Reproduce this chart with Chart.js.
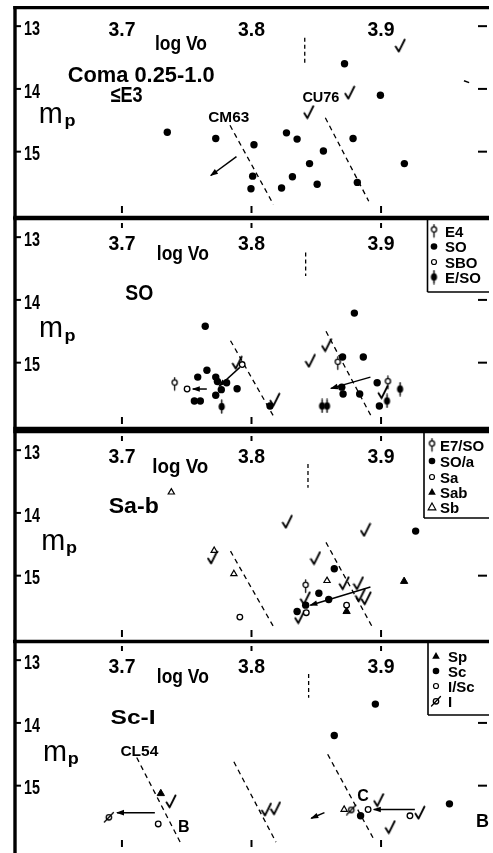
<!DOCTYPE html>
<html><head><meta charset="utf-8">
<script src="https://cdn.jsdelivr.net/npm/chart.js@4.4.1/dist/chart.umd.min.js"></script>
<style>
html,body{margin:0;padding:0;background:#fff;width:493px;height:853px;overflow:hidden}
.p{position:absolute;left:0;width:493px;height:213px}
canvas{display:block}
</style></head><body>
<div class="p" style="top:6px"><canvas id="c1" width="493" height="213"></canvas></div>
<div class="p" style="top:217px"><canvas id="c2" width="493" height="213"></canvas></div>
<div class="p" style="top:430px"><canvas id="c3" width="493" height="213"></canvas></div>
<div class="p" style="top:640px"><canvas id="c4" width="493" height="213"></canvas></div>
<script>
// ---------------- DATA ----------------
const xTicks = [3.7, 3.8, 3.9];
const yTicks = [13, 14, 15];
const xTickLabels = ['3.7', '3.8', '3.9'];
const yTickLabels = ['13', '14', '15'];

// Panel 1: Coma 0.25-1.0, <=E3
const comaDots = [[3.735,14.69],[3.7724,14.79],[3.8019,14.89],[3.8009,15.39],[3.7996,15.59],[3.8232,15.58],[3.8316,15.40],[3.827,14.70],[3.8352,14.80],[3.8448,15.19],[3.8555,14.99],[3.8507,15.52],[3.8718,13.60],[3.8784,14.79],[3.8817,15.49],[3.8995,14.10],[3.918,15.19]];
const comaChecks = [[3.9148,13.31],[3.8758,14.06],[3.8442,14.37]];
const comaGuides = [[[3.8411,13.185],[3.8411,13.61]],[[3.7834,14.58],[3.8169,15.84]],[[3.857,14.46],[3.8905,15.79]]];
const comaArrows = [[[3.7884,15.08],[3.7686,15.38]]];
const comaMarks = [[[3.964,13.87],[3.968,13.90]]];

// Panel 2: SO
const soTypes = ['E4','SO','SBO','E/SO'];
const soE4 = [[3.7407,15.34],[3.8666,15.01],[3.9053,15.32]];
const soDots = [[3.7643,14.42],[3.8794,14.21],[3.7656,15.12],[3.7585,15.23],[3.7724,15.23],[3.7737,15.30],[3.7808,15.32],[3.7767,15.43],[3.7889,15.415],[3.7724,15.52],[3.7559,15.61],[3.7605,15.61],[3.8143,15.69],[3.8703,14.91],[3.8863,14.91],[3.8697,15.39],[3.8707,15.50],[3.8835,15.50],[3.897,15.32],[3.8987,15.69]];
const soSBO = [[3.7928,15.03],[3.7503,15.42]];
const soESO = [[3.777,15.70],[3.8545,15.69],[3.8583,15.69],[3.9046,15.61],[3.9147,15.42]];
const soChecks = [[3.789,15.0],[3.818,15.59],[3.8454,14.97],[3.858,14.72],[3.9015,15.47]];
const soGuides = [[[3.8418,13.245],[3.8418,13.62]],[[3.7838,14.65],[3.8169,15.85]],[[3.8575,14.50],[3.8931,15.88]]];
const soArrows = [[[3.791,15.075],[3.775,15.375]],[[3.7655,15.42],[3.7547,15.42]],[[3.8918,15.23],[3.8613,15.41]]];

// Panel 3: Sa-b
const sabTypes = ['E7/SO','SO/a','Sa','Sab','Sb'];
const sabE7 = [[3.8418,15.17]];
const sabDots = [[3.9267,14.29],[3.8639,14.89],[3.852,15.28],[3.8596,15.38],[3.8418,15.47],[3.8352,15.57]];
const sabSa = [[3.791,15.66],[3.8423,15.59],[3.8734,15.47]];
const sabSab = [[3.9178,15.09],[3.8734,15.57]];
const sabSb = [[3.7381,13.67],[3.7712,14.60],[3.7864,14.97],[3.8583,15.08]];
const sabChecks = [[3.7699,14.71],[3.8276,14.14],[3.888,14.27],[3.8494,14.72],[3.8715,15.12],[3.8825,15.12],[3.884,15.31],[3.8885,15.36],[3.8415,15.36],[3.8372,15.66]];
const sabGuides = [[[3.8436,13.22],[3.8436,13.60]],[[3.7838,14.61],[3.8169,15.81]],[[3.8575,14.47],[3.8936,15.83]]];
const sabArrows = [[[3.8918,15.18],[3.8454,15.47]]];

// Panel 4: Sc-I
const scTypes = ['Sp','Sc','I/Sc','I'];
const scSp = [[3.73,15.125]];
const scDots = [[3.8956,13.70],[3.8639,14.20],[3.9528,15.29],[3.8842,15.48]];
const scISc = [[3.728,15.61],[3.89,15.38],[3.9223,15.48]];
const scI = [[3.6899,15.50],[3.877,15.38]];
const scSb = [[3.8715,15.38]];
const scChecks = [[3.7379,15.25],[3.8115,15.38],[3.8185,15.36],[3.8982,15.23],[3.93,15.43],[3.9071,15.66]];
const scGuides = [[[3.8441,13.22],[3.8441,13.60]],[[3.7114,14.55],[3.7457,15.93]],[[3.7864,14.62],[3.8189,15.90]],[[3.8588,14.50],[3.8951,15.88]]];
const scArrows = [[[3.7254,15.43],[3.6962,15.43]],[[3.8563,15.43],[3.8461,15.52]],[[3.9261,15.38],[3.8944,15.38]]];

// ---------------- LAYOUT / STYLE ----------------
const XMIN = 3.61745, XMAX = 3.98178, YMIN = 12.7744, YMAX = 15.9774;
const FONT = '"Liberation Sans", Arial, sans-serif';

function mk(w, h, draw) {
  const c = document.createElement('canvas'); c.width = w; c.height = h;
  const g = c.getContext('2d'); g.strokeStyle = '#000'; g.fillStyle = '#000';
  g.lineCap = 'round'; g.lineJoin = 'round'; draw(g); return c;
}
const SYM = {
  check: mk(12, 15, g => { g.lineWidth = 1.9; g.beginPath(); g.moveTo(1.5, 8.5); g.lineTo(4.6, 13.4); g.lineTo(10.5, 1.5); g.stroke(); }),
  e4: mk(9, 15, g => { g.lineWidth = 1.3; g.beginPath(); g.arc(4.5, 6, 2.6, 0, Math.PI*2); g.fillStyle = '#fff'; g.fill(); g.stroke();
        g.beginPath(); g.moveTo(4.5, 8.7); g.lineTo(4.5, 13.5); g.moveTo(4.5, 1); g.lineTo(4.5, 3.3); g.stroke(); }),
  eso: mk(9, 15, g => { g.beginPath(); g.ellipse(4.5, 7.5, 3.1, 3.8, 0, 0, Math.PI*2); g.fill();
        g.lineWidth = 1.4; g.beginPath(); g.moveTo(4.5, 1); g.lineTo(4.5, 14); g.stroke(); }),
  irr: mk(12, 12, g => { g.lineWidth = 1.3; g.beginPath(); g.arc(6, 6.3, 2.7, 0, Math.PI*2); g.stroke();
        g.beginPath(); g.moveTo(1.5, 11); g.lineTo(10.5, 1.5); g.stroke(); })
};
const ST = {
  dot:  {pointStyle:'circle', pointRadius:3.7, backgroundColor:'#000', borderColor:'#000', borderWidth:0},
  open: {pointStyle:'circle', pointRadius:2.8, backgroundColor:'#fff', borderColor:'#000', borderWidth:1.3},
  tri:  {pointStyle:'triangle', pointRadius:4.2, backgroundColor:'#000', borderColor:'#000', borderWidth:1},
  otri: {pointStyle:'triangle', pointRadius:3.6, backgroundColor:'#fff', borderColor:'#000', borderWidth:1.2},
  check:{pointStyle:SYM.check, pointRadius:5},
  e4:   {pointStyle:SYM.e4, pointRadius:5},
  eso:  {pointStyle:SYM.eso, pointRadius:5},
  irr:  {pointStyle:SYM.irr, pointRadius:5}
};

function pts(arr, st, label) {
  return Object.assign({type:'scatter', label: label || st, data: arr.map(([x,y]) => ({x, y})), showLine:false}, ST[st]);
}
function segs(list, kind) {
  return list.map(s => {
    const vert = s[0][0] === s[1][0];
    return {type:'line', data: s.map(([x,y]) => ({x, y})), showLine:true, borderColor:'#000',
      borderWidth: kind === 'dash' ? 1.3 : 1.5,
      borderDash: kind === 'dash' ? (vert ? [4,3] : [5,4]) : [],
      pointRadius:0, fill:false, tension:0, arrow: kind === 'arrow'};
  });
}

function txt(ctx, s, x, y, size, opt) {
  opt = opt || {};
  ctx.save();
  ctx.font = (opt.weight || 'bold') + ' ' + size + 'px ' + FONT;
  ctx.fillStyle = '#000'; ctx.textBaseline = 'alphabetic'; ctx.textAlign = 'left';
  const m = ctx.measureText(s).width;
  const sx = opt.w ? opt.w / m : 1;
  let left = x;
  if (opt.align === 'center') left = x - m * sx / 2;
  ctx.translate(left, y); ctx.scale(sx, 1);
  ctx.fillText(s, 0, 0);
  ctx.restore();
}
function ln(ctx, x1, y1, x2, y2) { ctx.beginPath(); ctx.moveTo(x1, y1); ctx.lineTo(x2, y2); ctx.stroke(); }
function drawSym(ctx, kind, x, y) {
  ctx.save(); ctx.fillStyle = '#000'; ctx.strokeStyle = '#000';
  if (kind === 'dot') { ctx.beginPath(); ctx.arc(x, y, 3.3, 0, Math.PI*2); ctx.fill(); }
  else if (kind === 'open') { ctx.lineWidth = 1.2; ctx.beginPath(); ctx.arc(x, y, 2.5, 0, Math.PI*2); ctx.stroke(); }
  else if (kind === 'tri' || kind === 'otri') {
    ctx.beginPath(); ctx.moveTo(x, y - 4); ctx.lineTo(x + 3.8, y + 2.8); ctx.lineTo(x - 3.8, y + 2.8); ctx.closePath();
    if (kind === 'tri') ctx.fill(); else { ctx.lineWidth = 1.2; ctx.stroke(); }
  } else { const c = SYM[kind]; ctx.drawImage(c, x - c.width/2, y - c.height/2); }
  ctx.restore();
}

const PANELS = {};
const decor = {
  id: 'decor',
  afterDatasetsDraw(chart) {
    const o = PANELS[chart.canvas.id];
    const {ctx, chartArea: a} = chart;
    const X = chart.scales.x, Y = chart.scales.y;
    // arrowheads
    chart.data.datasets.forEach((ds, i) => {
      if (!ds.arrow) return;
      const el = chart.getDatasetMeta(i).data;
      const p0 = el[el.length - 2], p1 = el[el.length - 1];
      const ang = Math.atan2(p1.y - p0.y, p1.x - p0.x);
      ctx.save(); ctx.translate(p1.x, p1.y); ctx.rotate(ang);
      ctx.beginPath(); ctx.moveTo(1, 0); ctx.lineTo(-7, -2.8); ctx.lineTo(-7, 2.8); ctx.closePath();
      ctx.fillStyle = '#000'; ctx.fill(); ctx.restore();
    });
    // tick labels
    xTicks.forEach((v, i) => txt(ctx, xTickLabels[i], X.getPixelForValue(v), Y.getPixelForValue(o.xLabelBase), 21, {w:27, align:'center'}));
    yTicks.forEach((v, i) => txt(ctx, yTickLabels[i], a.left + 9, Y.getPixelForValue(v + 0.14), 21, {w:16}));
    // notes
    o.notes.forEach(n => txt(ctx, n.t, X.getPixelForValue(n.x), Y.getPixelForValue(n.y), n.s, {w:n.w, align:n.a}));
    // m_p
    txt(ctx, 'm', X.getPixelForValue(o.mp[0]), Y.getPixelForValue(o.mp[1]), 29, {w:24, weight:'normal'});
    txt(ctx, 'p', X.getPixelForValue(o.mp[2]), Y.getPixelForValue(o.mp[3]), 17, {w:11});
    // tick marks
    ctx.save(); ctx.strokeStyle = '#000'; ctx.lineWidth = 2;
    yTicks.forEach(v => { const py = Y.getPixelForValue(v); ln(ctx, a.left, py, a.left + 6, py); ln(ctx, a.right - 9, py, a.right, py); });
    xTicks.forEach(v => { const px = X.getPixelForValue(v); ln(ctx, px, a.bottom, px, a.bottom - 7); if (o.topTicks) ln(ctx, px, a.top, px, a.top + 5); });
    ctx.restore();
    // legend
    if (o.legend) {
      const L = o.legend;
      ctx.save();
      ctx.fillStyle = '#fff'; ctx.fillRect(L.left, 0, a.right - L.left + 2, L.bottom);
      ctx.strokeStyle = '#000'; ctx.lineWidth = 1.6;
      ln(ctx, L.left, 0, L.left, L.bottom); ln(ctx, L.left, L.bottom, a.right + 2, L.bottom);
      ctx.restore();
      L.labels.forEach((lab, i) => {
        drawSym(ctx, L.syms[i], L.symX, L.ys[i]);
        txt(ctx, lab, L.textX, L.ys[i] + 5.5, 15);
      });
    }
    // frame
    ctx.save(); ctx.strokeStyle = '#000'; ctx.lineWidth = 3.4; ctx.lineCap = 'butt';
    ln(ctx, a.left - 1.7, 1.5, a.right + 2, 1.5);
    if (!o.openBottom) ln(ctx, a.left - 1.7, 211.5, a.right + 2, 211.5);
    ln(ctx, a.left, 0, a.left, 213);
    ctx.restore();
  }
};

function makePanel(id, datasets, cfg) {
  PANELS[id] = cfg;
  return new Chart(document.getElementById(id), {
    type: 'scatter',
    data: {datasets},
    options: {
      responsive:false, animation:false, devicePixelRatio:1, events:[],
      layout:{padding:{left:15, right:0, top:0, bottom:0}},
      scales:{
        x:{type:'linear', min:XMIN, max:XMAX, display:false},
        y:{type:'linear', min:YMIN, max:YMAX, reverse:true, display:false}
      },
      plugins:{legend:{display:false}, tooltip:{enabled:false}}
    },
    plugins:[decor]
  });
}

makePanel('c1', [
  pts(comaDots, 'dot', '≤E3'), pts(comaChecks, 'check', 'check'),
  ...segs(comaGuides, 'dash'), ...segs(comaArrows, 'arrow'), ...segs(comaMarks, 'solid')
], {
  xLabelBase: 13.15, topTicks:false, mp:[3.6357, 14.549, 3.6556, 14.586],
  notes:[
    {t:'log Vo', x:3.7456, y:13.386, s:21, w:52, a:'center'},
    {t:'Coma 0.25-1.0', x:3.6581, y:13.887, s:22, w:147},
    {t:'≤E3', x:3.6912, y:14.21, s:22, w:32},
    {t:'CM63', x:3.7666, y:14.52, s:14, w:41},
    {t:'CU76', x:3.8393, y:14.213, s:14, w:37}
  ]
});

makePanel('c2', [
  pts(soE4, 'e4', soTypes[0]), pts(soSBO, 'open', soTypes[2]), pts(soESO, 'eso', soTypes[3]),
  pts(soDots, 'dot', soTypes[1]), pts(soChecks, 'check', 'check'),
  ...segs(soGuides, 'dash'), ...segs(soArrows, 'arrow')
], {
  xLabelBase: 13.21, topTicks:true, mp:[3.6359, 14.594, 3.6556, 14.65],
  notes:[
    {t:'log Vo', x:3.747, y:13.37, s:21, w:52, a:'center'},
    {t:'SO', x:3.7026, y:14.0, s:22, w:28}
  ],
  legend:{left:427.5, bottom:75, symX:434, textX:445, ys:[14,29.5,45,60], labels:soTypes, syms:['e4','dot','open','eso']}
});

makePanel('c3', [
  pts(sabE7, 'e4', sabTypes[0]), pts(sabSa, 'open', sabTypes[2]), pts(sabSb, 'otri', sabTypes[4]),
  pts(sabSab, 'tri', sabTypes[3]), pts(sabDots, 'dot', sabTypes[1]), pts(sabChecks, 'check', 'check'),
  ...segs(sabGuides, 'dash'), ...segs(sabArrows, 'arrow')
], {
  xLabelBase: 13.21, topTicks:true, mp:[3.6377, 14.59, 3.6569, 14.64],
  notes:[
    {t:'log Vo', x:3.745, y:13.37, s:21, w:56, a:'center'},
    {t:'Sa-b', x:3.6898, y:14.0, s:22, w:50}
  ],
  legend:{left:424, bottom:88, symX:432, textX:440, ys:[15,31,47,62,77], labels:sabTypes, syms:['e4','dot','open','tri','otri']}
});

makePanel('c4', [
  pts(scISc, 'open', scTypes[2]), pts(scI, 'irr', scTypes[3]), pts(scSb, 'otri', 'Sb'),
  pts(scSp, 'tri', scTypes[0]), pts(scDots, 'dot', scTypes[1]), pts(scChecks, 'check', 'check'),
  ...segs(scGuides, 'dash'), ...segs(scArrows, 'arrow')
], {
  xLabelBase: 13.21, topTicks:true, openBottom:true, mp:[3.6390, 14.61, 3.6581, 14.66],
  notes:[
    {t:'log Vo', x:3.747, y:13.37, s:21, w:52, a:'center'},
    {t:'Sc-I', x:3.6912, y:14.02, s:21, w:45},
    {t:'CL54', x:3.6988, y:14.523, s:14, w:38},
    {t:'B', x:3.7433, y:15.74, s:16},
    {t:'B', x:3.9732, y:15.66, s:18},
    {t:'C', x:3.8817, y:15.24, s:16}
  ],
  legend:{left:428, bottom:75, symX:436, textX:448, ys:[16,31,46,61], labels:scTypes, syms:['tri','dot','open','irr']}
});
</script>
</body></html>
